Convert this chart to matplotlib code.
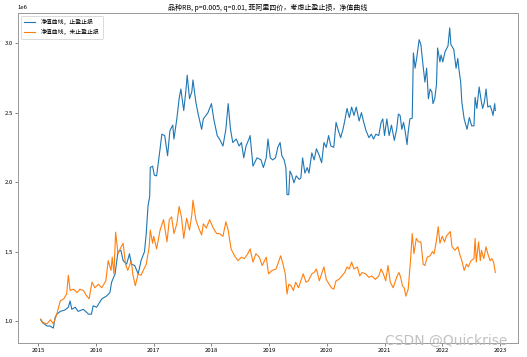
import matplotlib
matplotlib.use("Agg")
import matplotlib.pyplot as plt
import numpy as np
import pandas as pd

plt.rcParams['font.family'] = ['Noto Sans CJK SC', 'DejaVu Sans']
plt.rcParams['axes.unicode_minus'] = False

title = "品种RB, p=0.005, q=0.01, 菲阿里四价，考虑止盈止损，净值曲线"
label_blue = "净值曲线，止盈止损"
label_orange = "净值曲线，未止盈止损"
watermark = "CSDN @Quickrise"

# decimal years and net value (in units of 1e6)
blue_t = [2015.04, 2015.07, 2015.15, 2015.20, 2015.26, 2015.29, 2015.32, 2015.38, 2015.46, 2015.52,
          2015.55, 2015.58, 2015.64, 2015.69, 2015.78, 2015.87, 2015.92, 2015.95, 2016.01, 2016.10,
          2016.18, 2016.24, 2016.27, 2016.33, 2016.38, 2016.43, 2016.47, 2016.53, 2016.58, 2016.61,
          2016.67, 2016.73, 2016.78, 2016.84, 2016.87, 2016.90, 2016.93, 2016.94, 2016.98, 2017.01,
          2017.05, 2017.11, 2017.14, 2017.19, 2017.24, 2017.28, 2017.33, 2017.35, 2017.40, 2017.44,
          2017.47, 2017.52, 2017.56, 2017.58, 2017.62, 2017.66, 2017.68, 2017.73, 2017.77, 2017.83,
          2017.86, 2017.94, 2018.00, 2018.04, 2018.10, 2018.14, 2018.20, 2018.25, 2018.29, 2018.33,
          2018.37, 2018.43, 2018.48, 2018.52, 2018.56, 2018.60, 2018.65, 2018.67, 2018.72, 2018.79,
          2018.86, 2018.90, 2018.95, 2018.98, 2019.02, 2019.06, 2019.11, 2019.15, 2019.19, 2019.22,
          2019.26, 2019.29, 2019.31, 2019.34, 2019.36, 2019.39, 2019.43, 2019.47, 2019.52, 2019.55,
          2019.58, 2019.62, 2019.66, 2019.69, 2019.74, 2019.78, 2019.82, 2019.87, 2019.91, 2019.95,
          2019.99, 2020.03, 2020.07, 2020.12, 2020.16, 2020.20, 2020.24, 2020.28, 2020.31, 2020.35,
          2020.39, 2020.43, 2020.47, 2020.51, 2020.56, 2020.60, 2020.64, 2020.68, 2020.73, 2020.77,
          2020.81, 2020.85, 2020.90, 2020.94, 2020.97, 2021.00, 2021.04, 2021.08, 2021.12, 2021.17,
          2021.21, 2021.24, 2021.27, 2021.30, 2021.33, 2021.36, 2021.39, 2021.41, 2021.44, 2021.48,
          2021.50, 2021.53, 2021.56, 2021.60, 2021.63, 2021.67, 2021.70, 2021.73, 2021.76, 2021.79,
          2021.82, 2021.84, 2021.87, 2021.90, 2021.92, 2021.96, 2021.98, 2022.01, 2022.05, 2022.10,
          2022.13, 2022.15, 2022.20, 2022.24, 2022.27, 2022.29, 2022.32, 2022.34, 2022.38, 2022.43,
          2022.47, 2022.51, 2022.55, 2022.57, 2022.60, 2022.64, 2022.67, 2022.70, 2022.73, 2022.76,
          2022.79, 2022.83, 2022.86, 2022.88, 2022.91, 2022.92]
blue_v = [1.01, 0.99, 0.965, 0.965, 0.95, 1.025, 1.05, 1.07, 1.08, 1.10,
          1.145, 1.085, 1.10, 1.07, 1.085, 1.05, 1.05, 1.11, 1.10, 1.16,
          1.18, 1.205, 1.28, 1.34, 1.50, 1.51, 1.435, 1.41, 1.485, 1.41,
          1.40, 1.34, 1.435, 1.50, 1.63, 1.825, 1.90, 2.105, 2.115, 2.05,
          2.045, 2.24, 2.345, 2.335, 2.19, 2.37, 2.41, 2.31, 2.455, 2.60,
          2.67, 2.515, 2.67, 2.77, 2.60, 2.65, 2.735, 2.575, 2.49, 2.38,
          2.455, 2.50, 2.565, 2.455, 2.335, 2.31, 2.26, 2.38, 2.565, 2.38,
          2.285, 2.31, 2.26, 2.285, 2.175, 2.26, 2.31, 2.335, 2.115, 2.175,
          2.16, 2.105, 2.175, 2.31, 2.175, 2.16, 2.175, 2.25, 2.285, 2.19,
          2.16, 2.105, 1.91, 1.91, 2.08, 2.055, 1.995, 2.045, 2.02, 2.03,
          2.175, 2.065, 2.105, 2.065, 2.21, 2.16, 2.24, 2.19, 2.14, 2.285,
          2.25, 2.335, 2.26, 2.25, 2.43, 2.37, 2.32, 2.38, 2.44, 2.53,
          2.465, 2.54, 2.48, 2.54, 2.44, 2.50, 2.43, 2.37, 2.32, 2.345,
          2.31, 2.345, 2.335, 2.43, 2.455, 2.335, 2.455, 2.335, 2.41, 2.30,
          2.38, 2.49, 2.48, 2.38, 2.43, 2.36, 2.27, 2.36, 2.455, 2.46,
          2.93, 2.82, 2.90, 3.025, 2.99, 2.83, 2.72, 2.82, 2.60, 2.67,
          2.65, 2.565, 2.60, 2.70, 2.965, 2.865, 2.915, 2.865, 2.94, 2.98,
          3.11, 2.99, 2.955, 2.82, 2.89, 2.81, 2.72, 2.575, 2.455, 2.38,
          2.465, 2.405, 2.405, 2.61, 2.53, 2.685, 2.60, 2.53, 2.575, 2.67,
          2.54, 2.55, 2.515, 2.48, 2.565, 2.515]

orange_t = [2015.04, 2015.08, 2015.15, 2015.21, 2015.26, 2015.32, 2015.38, 2015.44, 2015.49, 2015.52,
            2015.55, 2015.61, 2015.67, 2015.72, 2015.78, 2015.84, 2015.88, 2015.93, 2015.98, 2016.04,
            2016.10, 2016.17, 2016.21, 2016.26, 2016.28, 2016.31, 2016.34, 2016.38, 2016.43, 2016.47,
            2016.51, 2016.55, 2016.61, 2016.64, 2016.68, 2016.73, 2016.78, 2016.87, 2016.92, 2016.94,
            2016.98, 2017.00, 2017.05, 2017.11, 2017.17, 2017.23, 2017.27, 2017.31, 2017.35, 2017.40,
            2017.44, 2017.48, 2017.52, 2017.57, 2017.62, 2017.66, 2017.68, 2017.73, 2017.77, 2017.83,
            2017.86, 2017.91, 2017.97, 2018.03, 2018.09, 2018.14, 2018.20, 2018.25, 2018.29, 2018.34,
            2018.40, 2018.46, 2018.52, 2018.57, 2018.63, 2018.67, 2018.72, 2018.77, 2018.83, 2018.88,
            2018.95, 2018.99, 2019.05, 2019.12, 2019.17, 2019.20, 2019.24, 2019.28, 2019.31, 2019.34,
            2019.38, 2019.42, 2019.46, 2019.51, 2019.55, 2019.59, 2019.64, 2019.68, 2019.74, 2019.78,
            2019.82, 2019.87, 2019.91, 2019.95, 2019.99, 2020.04, 2020.08, 2020.12, 2020.16, 2020.21,
            2020.26, 2020.31, 2020.35, 2020.39, 2020.43, 2020.47, 2020.53, 2020.57, 2020.61, 2020.67,
            2020.73, 2020.78, 2020.84, 2020.90, 2020.94, 2020.98, 2021.02, 2021.06, 2021.10, 2021.15,
            2021.21, 2021.25, 2021.28, 2021.31, 2021.34, 2021.37, 2021.41, 2021.45, 2021.48, 2021.51,
            2021.55, 2021.59, 2021.63, 2021.67, 2021.70, 2021.74, 2021.79, 2021.83, 2021.86, 2021.90,
            2021.93, 2021.96, 2022.00, 2022.04, 2022.07, 2022.11, 2022.14, 2022.17, 2022.22, 2022.27,
            2022.30, 2022.34, 2022.38, 2022.42, 2022.45, 2022.50, 2022.55, 2022.57, 2022.59, 2022.63,
            2022.66, 2022.68, 2022.72, 2022.76, 2022.79, 2022.83, 2022.86, 2022.89, 2022.92]
orange_v = [1.015, 0.99, 0.98, 1.01, 0.98, 1.05, 1.145, 1.16, 1.195, 1.33,
            1.22, 1.23, 1.205, 1.23, 1.22, 1.18, 1.16, 1.28, 1.24, 1.265,
            1.24, 1.29, 1.435, 1.365, 1.46, 1.34, 1.64, 1.485, 1.53, 1.56,
            1.41, 1.365, 1.435, 1.33, 1.255, 1.34, 1.33, 1.41, 1.53, 1.655,
            1.56, 1.61, 1.52, 1.655, 1.73, 1.57, 1.73, 1.75, 1.63, 1.70,
            1.825, 1.75, 1.595, 1.74, 1.655, 1.765, 1.87, 1.73, 1.68, 1.62,
            1.70, 1.67, 1.73, 1.67, 1.63, 1.63, 1.61, 1.715, 1.655, 1.52,
            1.47, 1.435, 1.46, 1.45, 1.485, 1.52, 1.425, 1.485, 1.46, 1.40,
            1.46, 1.34, 1.365, 1.375, 1.435, 1.47, 1.41, 1.34, 1.195, 1.265,
            1.255, 1.22, 1.28, 1.24, 1.29, 1.34, 1.28, 1.29, 1.34, 1.35,
            1.375, 1.29, 1.34, 1.39, 1.30, 1.265, 1.24, 1.23, 1.29, 1.30,
            1.325, 1.35, 1.39, 1.375, 1.425, 1.375, 1.39, 1.325, 1.35, 1.34,
            1.315, 1.325, 1.30, 1.325, 1.375, 1.34, 1.29, 1.40, 1.28, 1.24,
            1.315, 1.35, 1.315, 1.255, 1.24, 1.18, 1.23, 1.435, 1.63, 1.485,
            1.595, 1.57, 1.57, 1.41, 1.40, 1.46, 1.47, 1.50, 1.485, 1.58,
            1.68, 1.56, 1.61, 1.57, 1.61, 1.63, 1.645, 1.535, 1.51, 1.535,
            1.485, 1.435, 1.365, 1.41, 1.39, 1.435, 1.45, 1.595, 1.425, 1.57,
            1.435, 1.51, 1.45, 1.535, 1.485, 1.435, 1.45, 1.425, 1.35]


def to_dates(years):
    years = np.asarray(years, dtype=float)
    return pd.Timestamp("2015-01-01") + pd.to_timedelta((years - 2015.0) * 365.25, unit="D")


fig = plt.figure(figsize=(5.27, 3.57), dpi=100)
ax = fig.add_axes([0.034, 0.039, 0.949, 0.925])

ax.plot(to_dates(blue_t), np.array(blue_v) * 1e6, color="#1f77b4", lw=0.8, label=label_blue)
ax.plot(to_dates(orange_t), np.array(orange_v) * 1e6, color="#ff7f0e", lw=0.8, label=label_orange)

ax.set_title(title, fontsize=5, pad=2)
ax.tick_params(labelsize=4.3, length=2, width=0.5, pad=1.5, color="#555555")
ax.yaxis.get_offset_text().set_fontsize(4.3)
for s in ax.spines.values():
    s.set_color("#999999")
    s.set_linewidth(0.7)

leg = ax.legend(loc="upper left", fontsize=4.2, handlelength=1.9, borderpad=0.55,
                labelspacing=0.65, handletextpad=1.0, framealpha=1, edgecolor="#cccccc",
                fancybox=True)
leg.get_frame().set_linewidth(0.5)

fig.text(0.962, 0.045, watermark, fontsize=10, color="#bbbbbb", ha="right", va="center",
         family=["DejaVu Sans"], alpha=0.9)

fig.savefig("out.png", dpi=100)
